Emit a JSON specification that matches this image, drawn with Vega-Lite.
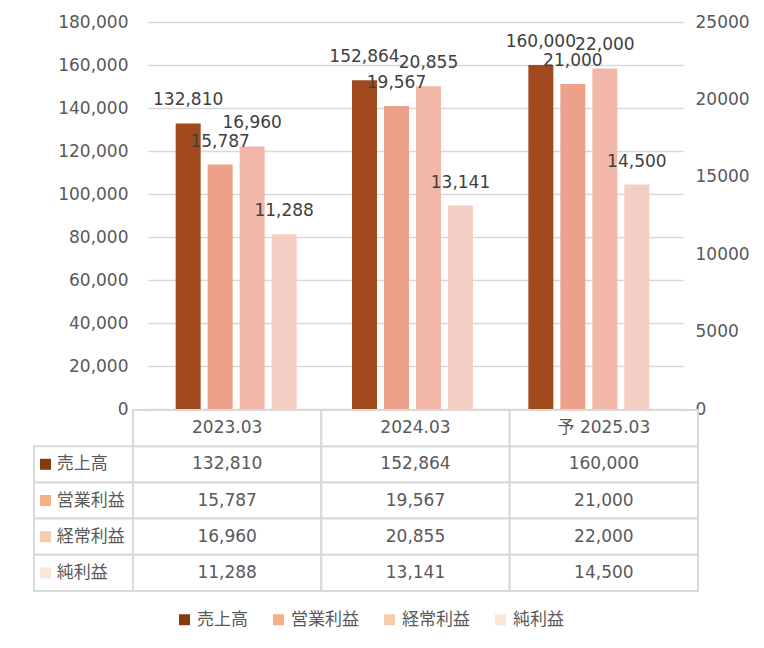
{
  "$schema": "https://vega.github.io/schema/vega-lite/v6.json",
  "padding": {"left": 33, "top": 13, "right": 5, "bottom": 5},
  "background": "white",
  "datasets": {
    "d": [
      {"period": "2023.03", "series": "売上高", "value": 132810},
      {"period": "2023.03", "series": "営業利益", "value": 15787},
      {"period": "2023.03", "series": "経常利益", "value": 16960},
      {"period": "2023.03", "series": "純利益", "value": 11288},
      {"period": "2024.03", "series": "売上高", "value": 152864},
      {"period": "2024.03", "series": "営業利益", "value": 19567},
      {"period": "2024.03", "series": "経常利益", "value": 20855},
      {"period": "2024.03", "series": "純利益", "value": 13141},
      {"period": "予 2025.03", "series": "売上高", "value": 160000},
      {"period": "予 2025.03", "series": "営業利益", "value": 21000},
      {"period": "予 2025.03", "series": "経常利益", "value": 22000},
      {"period": "予 2025.03", "series": "純利益", "value": 14500}
    ]
  },
  "data": {"name": "d"},
  "bounds": "flush",
  "center": true,
  "spacing": 1,
  "vconcat": [
    {
      "width": 535,
      "height": 387,
      "encoding": {
        "x": {"field": "period", "type": "nominal", "sort": null, "scale": {"domain": ["2023.03", "2024.03", "予 2025.03"], "paddingInner": 0, "paddingOuter": 0.017, "align": 0}, "axis": null},
        "xOffset": {"field": "series", "type": "nominal", "sort": null, "scale": {"domain": ["売上高", "営業利益", "経常利益", "純利益"], "paddingInner": 0.219, "paddingOuter": 0.865}}
      },
      "layer": [
        {
          "transform": [{"filter": "datum.series === '売上高'"}],
          "encoding": {
            "y": {"field": "value", "type": "quantitative", "scale": {"domain": [0, 180000], "nice": false},
              "axis": {"orient": "left", "values": [0, 20000, 40000, 60000, 80000, 100000, 120000, 140000, 160000, 180000], "labelExpr": "format(datum.value, ',')", "grid": true, "gridColor": "#D9D9D9", "gridWidth": 1.5, "domain": false, "ticks": false, "labelPadding": 20, "title": null}}
          },
          "layer": [
            {"mark": {"type": "bar"}, "encoding": {"color": {"field": "series", "type": "nominal", "scale": {"domain": ["売上高", "営業利益", "経常利益", "純利益"], "range": ["#A04A1E", "#EDA18B", "#F1B8A9", "#F4CEC5"]}, "legend": null}}},
            {"mark": {"type": "text", "baseline": "middle", "dy": -23, "fontSize": 17}, "encoding": {"color": {"value": "#404040"}, "text": {"field": "value", "format": ","}}}
          ]
        },
        {
          "transform": [{"filter": "datum.series !== '売上高'"}],
          "encoding": {
            "y": {"field": "value", "type": "quantitative", "scale": {"domain": [0, 25000], "nice": false},
              "axis": {"orient": "right", "values": [0, 5000, 10000, 15000, 20000, 25000], "labelExpr": "format(datum.value, 'd')", "grid": false, "domain": false, "ticks": false, "labelPadding": 12, "title": null}}
          },
          "layer": [
            {"mark": {"type": "bar"}, "encoding": {"color": {"field": "series", "type": "nominal", "scale": {"domain": ["売上高", "営業利益", "経常利益", "純利益"], "range": ["#A04A1E", "#EDA18B", "#F1B8A9", "#F4CEC5"]}, "legend": null}}},
            {"mark": {"type": "text", "baseline": "middle", "dy": -23, "fontSize": 17}, "encoding": {"color": {"value": "#404040"}, "text": {"field": "value", "format": ","}}}
          ]
        }
      ],
      "resolve": {"scale": {"y": "independent"}, "axis": {"y": "independent"}}
    },
    {
      "width": 565,
      "height": 181,
      "layer": [
        {
          "encoding": {
            "x": {"field": "period", "type": "nominal", "sort": null, "scale": {"domain": ["2023.03", "2024.03", "予 2025.03"], "paddingInner": 0, "paddingOuter": 0}, "axis": null}
          },
          "layer": [
            {
              "mark": {"type": "rect", "fill": "white", "stroke": "#D9D9D9", "strokeWidth": 2},
              "encoding": {"y": {"field": "series", "type": "nominal", "scale": {"domain": ["header", "売上高", "営業利益", "経常利益", "純利益"], "paddingInner": 0, "paddingOuter": 0}, "axis": null}}
            },
            {
              "transform": [{"filter": "datum.series === '売上高'"}],
              "mark": {"type": "rect", "fill": "white", "stroke": "#D9D9D9", "strokeWidth": 2},
              "encoding": {"y": {"datum": "header", "type": "nominal"}}
            },
            {
              "mark": {"type": "text", "baseline": "middle", "fontSize": 17, "color": "#595959"},
              "encoding": {"y": {"field": "series", "type": "nominal"}, "text": {"field": "value", "format": ","}}
            },
            {
              "transform": [{"filter": "datum.series === '売上高'"}],
              "mark": {"type": "text", "baseline": "middle", "fontSize": 17, "color": "#595959"},
              "encoding": {"y": {"datum": "header", "type": "nominal"}, "text": {"field": "period"}}
            }
          ]
        },
        {
          "transform": [{"filter": "datum.period === '2023.03'"}],
          "encoding": {
            "x": {"datum": "label", "type": "nominal", "scale": {"domain": ["label"], "range": [-99, 0], "paddingInner": 0, "paddingOuter": 0}, "axis": null},
            "y": {"field": "series", "type": "nominal"}
          },
          "layer": [
            {"mark": {"type": "rect", "fill": "white", "stroke": "#D9D9D9", "strokeWidth": 2}},
            {
              "mark": {"type": "point", "shape": "square", "filled": true, "size": 121, "opacity": 1},
              "encoding": {
                "x": {"datum": "label", "type": "nominal", "bandPosition": 0.116},
                "color": {"field": "series", "type": "nominal", "scale": {"domain": ["売上高", "営業利益", "経常利益", "純利益"], "range": ["#843C0C", "#F4B183", "#F8CBAD", "#FBE5D6"]},
                  "legend": {"orient": "none", "legendX": 43, "legendY": 201, "direction": "horizontal", "title": null, "symbolType": "square", "symbolSize": 121, "symbolStrokeWidth": 0, "symbolOpacity": 1, "labelFontSize": 17, "labelColor": "#595959", "columnPadding": 22, "labelOffset": 4}}
              }
            },
            {
              "mark": {"type": "text", "align": "left", "baseline": "middle", "fontSize": 17, "color": "#595959"},
              "encoding": {"x": {"datum": "label", "type": "nominal", "bandPosition": 0.23}, "text": {"field": "series"}}
            }
          ]
        }
      ],
      "resolve": {"scale": {"x": "independent"}, "axis": {"x": "independent"}}
    }
  ],
  "resolve": {"scale": {"color": "independent", "x": "independent", "y": "independent", "xOffset": "independent"}, "legend": {"color": "independent"}},
  "config": {
    "view": {"stroke": null},
    "font": "DejaVu Sans, Noto Sans CJK JP",
    "axis": {"labelFont": "DejaVu Sans, Noto Sans CJK JP", "labelFontSize": 17, "labelColor": "#595959"},
    "legend": {"labelFont": "DejaVu Sans, Noto Sans CJK JP"},
    "text": {"font": "DejaVu Sans, Noto Sans CJK JP"}
  }
}
